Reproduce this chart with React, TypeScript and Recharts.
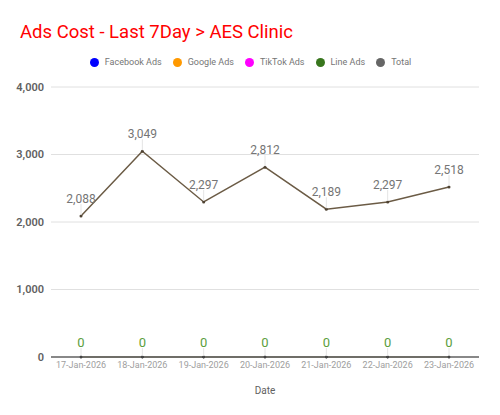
import React from "react";
import {
  LineChart,
  Line,
  XAxis,
  YAxis,
  CartesianGrid,
  LabelList,
} from "recharts";

const dates = [
  "17-Jan-2026",
  "18-Jan-2026",
  "19-Jan-2026",
  "20-Jan-2026",
  "21-Jan-2026",
  "22-Jan-2026",
  "23-Jan-2026",
];
const facebookAds = [0, 0, 0, 0, 0, 0, 0];
const googleAds = [0, 0, 0, 0, 0, 0, 0];
const tiktokAds = [0, 0, 0, 0, 0, 0, 0];
const lineAds = [0, 0, 0, 0, 0, 0, 0];
const total = [2088, 3049, 2297, 2812, 2189, 2297, 2518];
const yTicks = [0, 1000, 2000, 3000, 4000];

const legendItems = [
  { name: "Facebook Ads", color: "#0000ff" },
  { name: "Google Ads", color: "#ff9900" },
  { name: "TikTok Ads", color: "#ff00ff" },
  { name: "Line Ads", color: "#38761d" },
  { name: "Total", color: "#666666" },
];

const data = dates.map((date, i) => ({
  date,
  facebook: facebookAds[i],
  google: googleAds[i],
  tiktok: tiktokAds[i],
  line: lineAds[i],
  total: total[i],
}));

const fmt = (v: number) => v.toLocaleString("en-US");

const makeLabel =
  (color: string, size: number, gap: number) => (props: any) => {
    const { x, y, value } = props;
    if (x == null || y == null) return null;
    return (
      <g>
        <line x1={x} y1={y - 1} x2={x} y2={y - gap + 1} stroke="#e4e4e4" />
        <text
          x={x}
          y={y - gap}
          textAnchor="middle"
          fontSize={size}
          fill={color}
          fontFamily="Roboto"
        >
          {fmt(Number(value))}
        </text>
      </g>
    );
  };

const TotalLabel = makeLabel("#757575", 12, 13);
const ZeroLabel = makeLabel("#5b9e3c", 13, 10);

const Legend = () => (
  <div
    style={{
      position: "absolute",
      top: 57,
      left: 0,
      width: 500,
      display: "flex",
      justifyContent: "center",
      fontSize: 9,
      lineHeight: "11px",
      color: "#757575",
      paddingLeft: 6,
    }}
  >
    {legendItems.map((it) => (
      <div
        key={it.name}
        style={{ display: "flex", alignItems: "center", marginRight: 11 }}
      >
        <span
          style={{
            width: 9,
            height: 9,
            borderRadius: "50%",
            background: it.color,
            marginRight: 6,
            display: "inline-block",
          }}
        />
        <span>{it.name}</span>
      </div>
    ))}
  </div>
);

export default function App() {
  return (
    <div
      style={{
        position: "absolute",
        top: 0,
        left: 0,
        width: 500,
        height: 415,
        background: "#fff",
        fontFamily: "Roboto",
      }}
    >
      <div
        style={{
          position: "absolute",
          top: 21,
          left: 20,
          fontSize: 18.5,
          color: "#ff0000",
        }}
      >
        Ads Cost - Last 7Day &gt; AES Clinic
      </div>
      <Legend />
      <LineChart
        width={500}
        height={415}
        data={data}
        margin={{ top: 87, right: 21, bottom: 18, left: 0 }}
      >
        <CartesianGrid vertical={false} stroke="#e0e0e0" />
        <XAxis
          dataKey="date"
          tickSize={0}
          tickMargin={5}
          height={40}
          padding={{ left: 30, right: 30 }}
          axisLine={{ stroke: "#666666", strokeWidth: 1.5 }}
          tick={{ fontSize: 9, fill: "#9e9e9e", fontFamily: "Roboto" }}
          label={{
            value: "Date",
            position: "insideBottom",
            offset: 3,
            fontSize: 10,
            fill: "#616161",
            fontFamily: "Roboto",
          }}
        />
        <YAxis
          width={51}
          domain={[0, 4000]}
          ticks={yTicks}
          tickSize={0}
          tickMargin={7}
          axisLine={false}
          tickFormatter={fmt}
          tick={{
            fontSize: 11,
            fill: "#616161",
            fontWeight: 600,
            fontFamily: "Roboto",
          }}
        />
        <Line
          dataKey="facebook"
          stroke="#0000ff"
          strokeWidth={1.5}
          dot={{ r: 1.2, fill: "#444", stroke: "none" }}
          isAnimationActive={false}
        />
        <Line
          dataKey="google"
          stroke="#ff9900"
          strokeWidth={1.5}
          dot={{ r: 1.2, fill: "#444", stroke: "none" }}
          isAnimationActive={false}
        />
        <Line
          dataKey="tiktok"
          stroke="#ff00ff"
          strokeWidth={1.5}
          dot={{ r: 1.2, fill: "#444", stroke: "none" }}
          isAnimationActive={false}
        />
        <Line
          dataKey="line"
          stroke="#6aa84f"
          strokeWidth={1.5}
          dot={{ r: 1.2, fill: "#444", stroke: "none" }}
          isAnimationActive={false}
        >
          <LabelList dataKey="line" content={ZeroLabel} />
        </Line>
        <Line
          dataKey="total"
          stroke="#6b5b45"
          strokeWidth={1.5}
          dot={{ r: 1.5, fill: "#4e4232", stroke: "none" }}
          isAnimationActive={false}
        >
          <LabelList dataKey="total" content={TotalLabel} />
        </Line>
      </LineChart>
    </div>
  );
}
